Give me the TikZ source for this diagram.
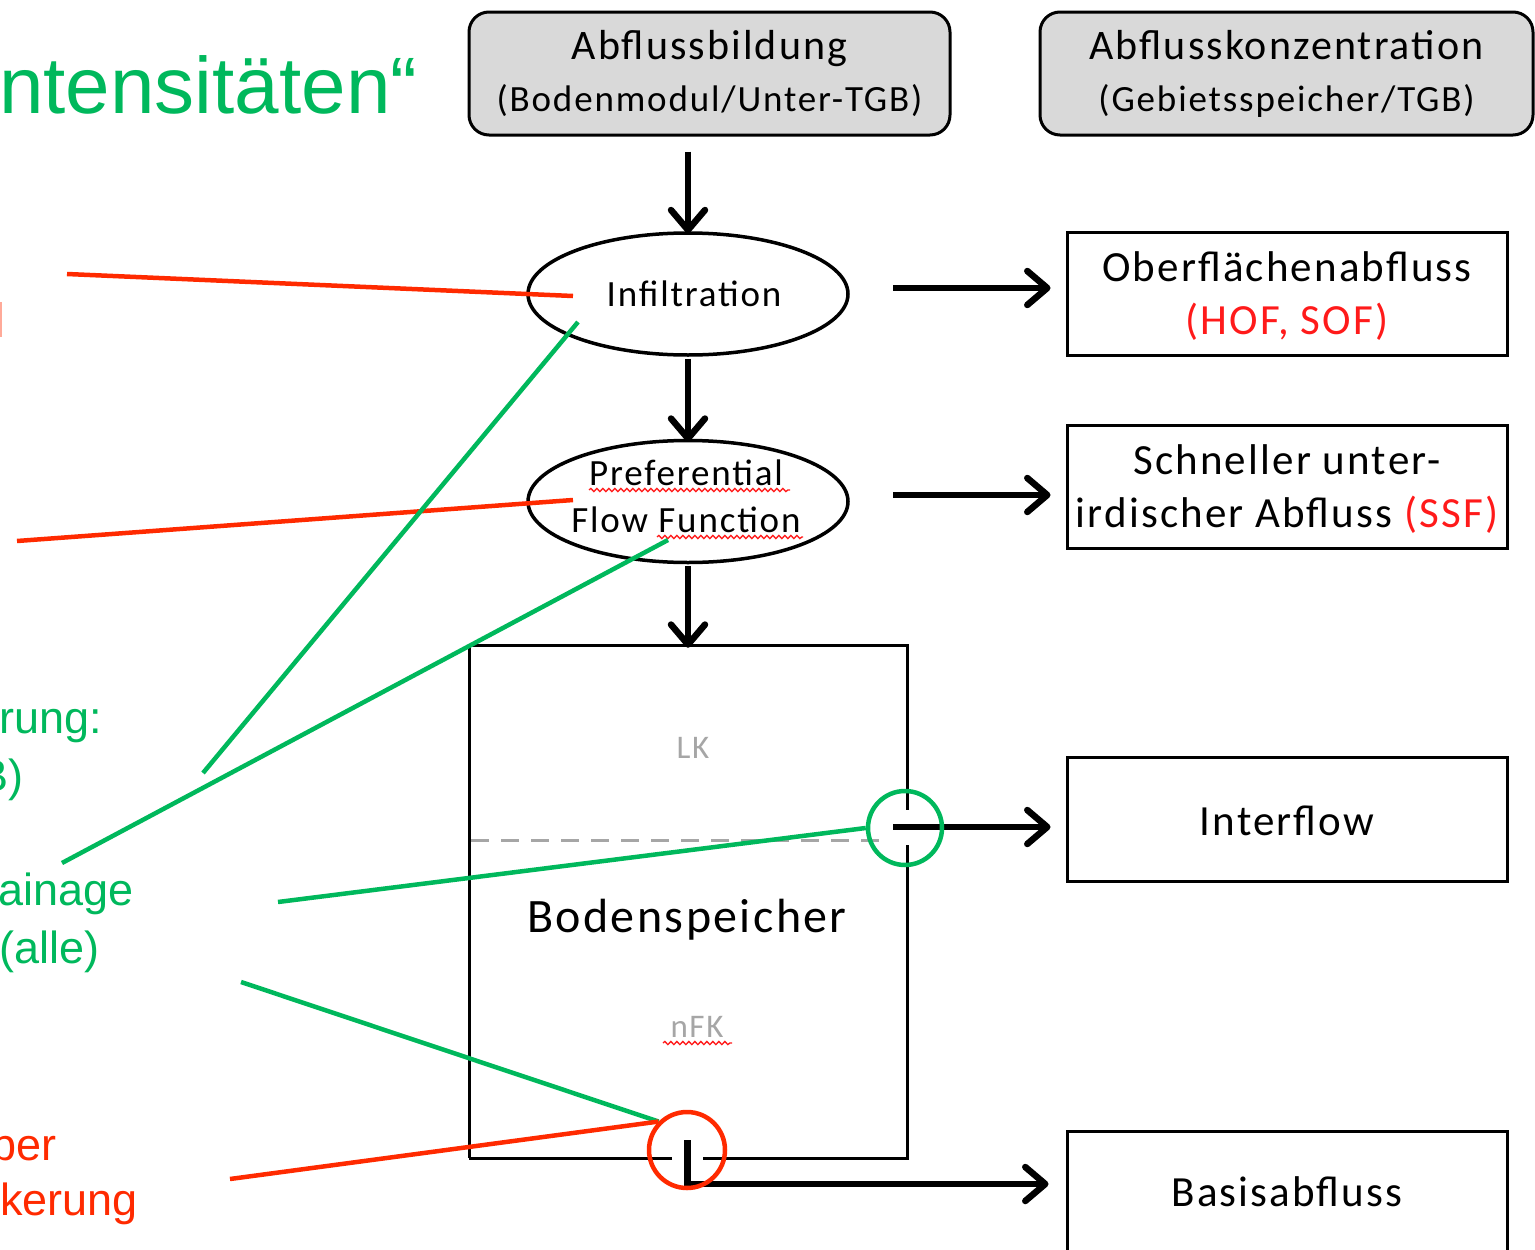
\documentclass[tikz,border=0pt]{standalone}
\usepackage{fontspec}
\setmainfont{Carlito}[LetterSpace=5]
\newfontfamily\arialf{Liberation Sans}
\usetikzlibrary{arrows.meta,shapes.geometric,decorations.pathmorphing}
\definecolor{pgreen}{HTML}{00B85C}
\definecolor{pred}{HTML}{FF2A00}
\definecolor{lblred}{HTML}{FF1A1A}
\definecolor{boxgray}{HTML}{D9D9D9}
\definecolor{txtgray}{HTML}{A6A6A6}
\tikzset{
  headbox/.style={draw, line width=3pt, rounded corners=20pt, fill=boxgray, minimum width=481pt, minimum height=123pt, align=center, font=\fontsize{42}{52}\selectfont},
  outbox/.style={draw, line width=3pt, minimum width=440pt, minimum height=123pt, inner sep=0pt},
  outlbl/.style={align=center, inner sep=0pt, font=\fontsize{43}{53}\selectfont},
  procell/.style={draw, ellipse, line width=3.5pt, minimum width=320pt, minimum height=122pt, inner sep=0pt},
  proclbl/.style={align=center, inner sep=0pt, font=\fontsize{37}{47}\selectfont},
  flow/.style={line width=6.5pt, -{Straight Barb[length=20pt,width=34pt,round]}},
  boxline/.style={line width=3pt},
  gnote/.style={pgreen, line width=4.5pt},
  rnote/.style={pred, line width=4.5pt},
  gtext/.style={anchor=base west, inner sep=0pt, text=pgreen, font=\arialf\fontsize{45}{54}\selectfont},
  rtext/.style={anchor=base west, inner sep=0pt, text=pred, font=\arialf\fontsize{45}{54}\selectfont},
  squiggle/.style={lblred, line width=1.3pt, decorate, decoration={snake, segment length=6pt, amplitude=1.6pt}}
}
\begin{document}
\begin{tikzpicture}[x=1pt,y=-1pt]
\useasboundingbox (0,0) rectangle (1535,1250);

% header boxes
\node[headbox] (top1) at (709.5,73.5) {Abflussbildung\\{\fontsize{37}{46}\selectfont(Bodenmodul/Unter-TGB)}};
\node[headbox, minimum width=493pt] (top2) at (1286.5,73.5) {Abflusskonzentration\\{\fontsize{37}{46}\selectfont(Gebietsspeicher/TGB)}};

% process ellipses
\node[procell] (infil) at (688,294) {};
\node[proclbl] (infillbl) at (694,294) {Infiltration};
\node[procell] (pff) at (688,501.5) {};
\node[proclbl] (pfflbl) at (686,496) {Preferential\\Flow Function};

% soil store
\node[minimum width=438pt, minimum height=513pt, inner sep=0pt] (boden) at (688,901.5) {};
\node[font=\fontsize{48}{56}\selectfont] (bodenlbl) at (687,920) {Bodenspeicher};
\node[text=txtgray, font=\fontsize{33}{40}\selectfont] (lk) at (693,748) {LK};
\node[text=txtgray, font=\fontsize{33}{40}\selectfont] (nfk) at (697,1027) {nFK};
\draw[boxline] (469,1158) -- (469,645) -- (907,645) -- (907,810);
\draw[boxline] (907,845) -- (907,1158) -- (703,1158);
\draw[boxline] (672,1158) -- (469,1158);
\draw[txtgray, line width=3pt, dash pattern=on 18pt off 12pt] (471,840) -- (885,840);

% spell-check squiggles
\draw[squiggle] (589,490) -- (790,490);
\draw[squiggle] (657,537) -- (803,537);
\draw[squiggle] (663,1043) -- (732,1043);

% output boxes
\node[outbox] (hof) at (1287,293.5) {};
\node[outlbl] (hoflbl) at (1287,296) {Oberflächenabfluss\\\textcolor{lblred}{(HOF, SOF)}};
\node[outbox] (ssf) at (1287,486.5) {};
\node[outlbl] (ssflbl) at (1287,489) {Schneller unter-\\irdischer Abfluss \textcolor{lblred}{(SSF)}};
\node[outbox, minimum height=124pt] (inter) at (1287,819) {};
\node[outlbl] (interlbl) at (1287,821) {Interflow};
\node[outbox, minimum height=160pt] (basis) at (1287,1211) {};
\node[outlbl] (basislbl) at (1287,1192) {Basisabfluss};

% vertical flow arrows
\path (top1.south -| infil.north) ++(0,15) coordinate (v0);
\draw[flow] (v0) -- ([yshift=-2pt]infil.north);
\draw[flow] ([yshift=-2pt]infil.south) -- ([yshift=-3pt]pff.north);
\draw[flow] ([yshift=-2pt]pff.south) -- ([yshift=-3pt]boden.north);

% horizontal flow arrows
\coordinate (a1) at (893,288);
\coordinate (a2) at (893,495);
\coordinate (a3) at (893,827);
\coordinate (a4) at (687,1140);
\coordinate (a4b) at (687,1184);
\draw[flow, shorten >=15pt] (a1) -- (a1 -| hof.west);
\draw[flow, shorten >=15pt] (a2) -- (a2 -| ssf.west);
\draw[flow, shorten >=15pt] (a3) -- (a3 -| inter.west);
\draw[line width=7pt] (a4) -- ([yshift=-3.5pt]a4b);
\draw[flow, shorten >=17pt] (a4b) -- (a4b -| basis.west);

% marker circles
\node[draw=pgreen, line width=4.5pt, circle, minimum size=74pt, inner sep=0pt] (gcirc) at (905,828) {};
\node[draw=pred, line width=4.5pt, circle, minimum size=76pt, inner sep=0pt] (rcirc) at (687,1150) {};

% left text fragments
\node[gtext, font=\arialf\fontsize{80}{90}\selectfont] (t1) at (-1,113) {ntensitäten“};
\node[gtext] (t2) at (-1,733) {rung:};
\node[gtext] (t3) at (-22,791) {B)};
\node[gtext] (t4) at (-2,905) {ainage};
\node[gtext] (t5) at (-1,963) {(alle)};
\node[rtext] (t6) at (-34,1160) {ober};
\node[rtext] (t7) at (0,1215) {kerung};
\fill[pred!40] (0,302) rectangle (1.5,337);

% annotation lines
\coordinate (r1a) at (67,274);   \coordinate (r1b) at (573,296);
\coordinate (r2a) at (17,541);   \coordinate (r2b) at (573,500);
\coordinate (g1a) at (203,773);  \coordinate (g1b) at (578,322);
\coordinate (g2a) at (62,863);   \coordinate (g2b) at (668,540);
\coordinate (g3a) at (278,902);
\coordinate (g4a) at (241,982);
\coordinate (r3a) at (230,1179);
\draw[rnote] (r1a) -- (r1b);
\draw[rnote] (r2a) -- (r2b);
\draw[gnote] (g1a) -- (g1b);
\draw[gnote] (g2a) -- (g2b);
\draw[gnote] (g3a) -- (gcirc.west);
\draw[gnote] (g4a) -- (rcirc.north west);
\draw[rnote] (r3a) -- (rcirc.north west);
\end{tikzpicture}
\end{document}
